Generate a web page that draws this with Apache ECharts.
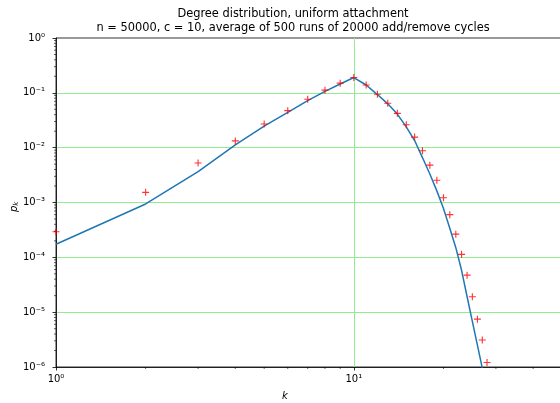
<!DOCTYPE html>
<html>
<head>
<meta charset="utf-8">
<script src="https://cdn.jsdelivr.net/npm/echarts@6/dist/echarts.min.js"></script>
<style>
  html, body { margin: 0; padding: 0; background: #fff; }
  #chart { width: 560px; height: 403px; }
</style>
</head>
<body>
<div id="chart"></div>
<script>
// degree k
const degrees = [1, 2, 3, 4, 5, 6, 7, 8, 9, 10, 11, 12, 13, 14, 15, 16, 17, 18, 19, 20,
  21, 22, 23, 24, 25, 26, 27, 28];
// simulation (red +)
const simulated = [2.93e-4, 1.53e-3, 5.25e-3, 0.0133, 0.0270, 0.0473, 0.0762, 0.112, 0.150, 0.190,
  0.139, 0.094, 0.0644, 0.0423, 0.0262, 0.0156, 0.0088, 0.0048, 0.00254, 0.00122,
  6.0e-4, 2.65e-4, 1.135e-4, 4.73e-5, 1.91e-5, 7.45e-6, 3.1e-6, 1.21e-6];
// theory (blue line)
const theory = [1.73e-4, 9.4e-4, 3.65e-3, 0.0112, 0.0248, 0.0441, 0.0719, 0.1066, 0.145, 0.190,
  0.139, 0.093, 0.063, 0.041, 0.024, 0.0135, 0.0066, 0.0033, 0.00163, 7.8e-4,
  3.4e-4, 1.5e-4, 5.8e-5, 1.93e-5, 6.8e-6, 2.5e-6, 9.5e-7];

const xMinorTicks = [2, 3, 4, 5, 6, 7, 8, 9, 20, 30, 40];
const yDecades = [-6, -5, -4, -3, -2, -1];
const minorMultipliers = [2, 3, 4, 5, 6, 7, 8, 9];

const sup = { '0': '⁰', '1': '¹', '2': '²', '3': '³', '4': '⁴', '5': '⁵', '6': '⁶', '-': '⁻' };
const powLabel = (v) => {
  const e = Math.log10(v);
  if (Math.abs(e - Math.round(e)) > 1e-6) return '';
  return '10' + String(Math.round(e)).split('').map((c) => sup[c]).join('');
};

const minorData = [];
yDecades.forEach((d) => minorMultipliers.forEach((m) => minorData.push([1, m * Math.pow(10, d), 0])));
xMinorTicks.forEach((m) => minorData.push([m, 1e-6, 1]));

const font = 'DejaVu Sans';
const chart = echarts.init(document.getElementById('chart'));

chart.setOption({
  animation: false,
  title: {
    text: 'Degree distribution, uniform attachment\nn = 50000, c = 10, average of 500 runs of 20000 add/remove cycles',
    left: 288,
    top: 2,
    textAlign: 'center',
    textStyle: { fontFamily: font, fontSize: 11.4, fontWeight: 'normal', color: '#000', lineHeight: 14 },
  },
  grid: {
    left: 56, right: -2, top: 38, bottom: 36,
    outerBoundsMode: 'none',
    show: true, borderColor: '#000', borderWidth: 0.8,
  },
  xAxis: {
    type: 'log',
    logBase: 10,
    min: 1,
    max: 50,
    axisLine: { lineStyle: { color: '#000', width: 0.8 } },
    axisTick: { length: 3.5, lineStyle: { color: '#000', width: 0.8 } },
    axisLabel: { formatter: powLabel, margin: 7, fontFamily: font, fontSize: 10, color: '#000' },
    splitLine: { show: true, showMinLine: false, showMaxLine: false, lineStyle: { color: '#90ee90', width: 1 } },
  },
  yAxis: {
    type: 'log',
    logBase: 10,
    min: 1e-6,
    max: 1,
    axisLine: { show: true, lineStyle: { color: '#000', width: 0.8 } },
    axisTick: { show: true, length: 3.5, lineStyle: { color: '#000', width: 0.8 } },
    axisLabel: { formatter: powLabel, margin: 11, fontFamily: font, fontSize: 10, color: '#000' },
    splitLine: { show: true, showMinLine: false, showMaxLine: false, lineStyle: { color: '#90ee90', width: 1 } },
  },
  graphic: [
    {
      type: 'text', left: 282, top: 391,
      style: { text: 'k', font: 'italic 10px ' + font, fill: '#000' },
    },
    {
      type: 'text', x: 8, y: 212, rotation: Math.PI / 2,
      style: {
        text: '{p|p}{s|k}',
        rich: {
          p: { fontFamily: font, fontStyle: 'italic', fontSize: 10, fill: '#000' },
          s: { fontFamily: font, fontStyle: 'italic', fontSize: 7, fill: '#000', padding: [5, 0, 0, 0] },
        },
      },
    },
  ],
  series: [
    {
      type: 'line',
      data: theory.map((v, i) => [degrees[i], v]),
      showSymbol: false,
      lineStyle: { color: '#1f77b4', width: 1.5 },
      z: 3,
    },
    {
      type: 'scatter',
      data: simulated.map((v, i) => [degrees[i], v]),
      symbol: 'path://M4.2,0H5.8V4.2H10V5.8H5.8V10H4.2V5.8H0V4.2H4.2Z',
      symbolSize: 7,
      itemStyle: { color: '#ff0000' },
      z: 4,
    },
    {
      type: 'custom',
      clip: false,
      data: minorData,
      renderItem: (params, api) => {
        const p = api.coord([api.value(0), api.value(1)]);
        const onY = api.value(2) === 0;
        return {
          type: 'line',
          shape: onY
            ? { x1: p[0] - 2, y1: p[1], x2: p[0], y2: p[1] }
            : { x1: p[0], y1: p[1], x2: p[0], y2: p[1] + 2 },
          style: { stroke: '#000', lineWidth: 0.6 },
        };
      },
      silent: true,
      z: 5,
    },
  ],
});
</script>
</body>
</html>
